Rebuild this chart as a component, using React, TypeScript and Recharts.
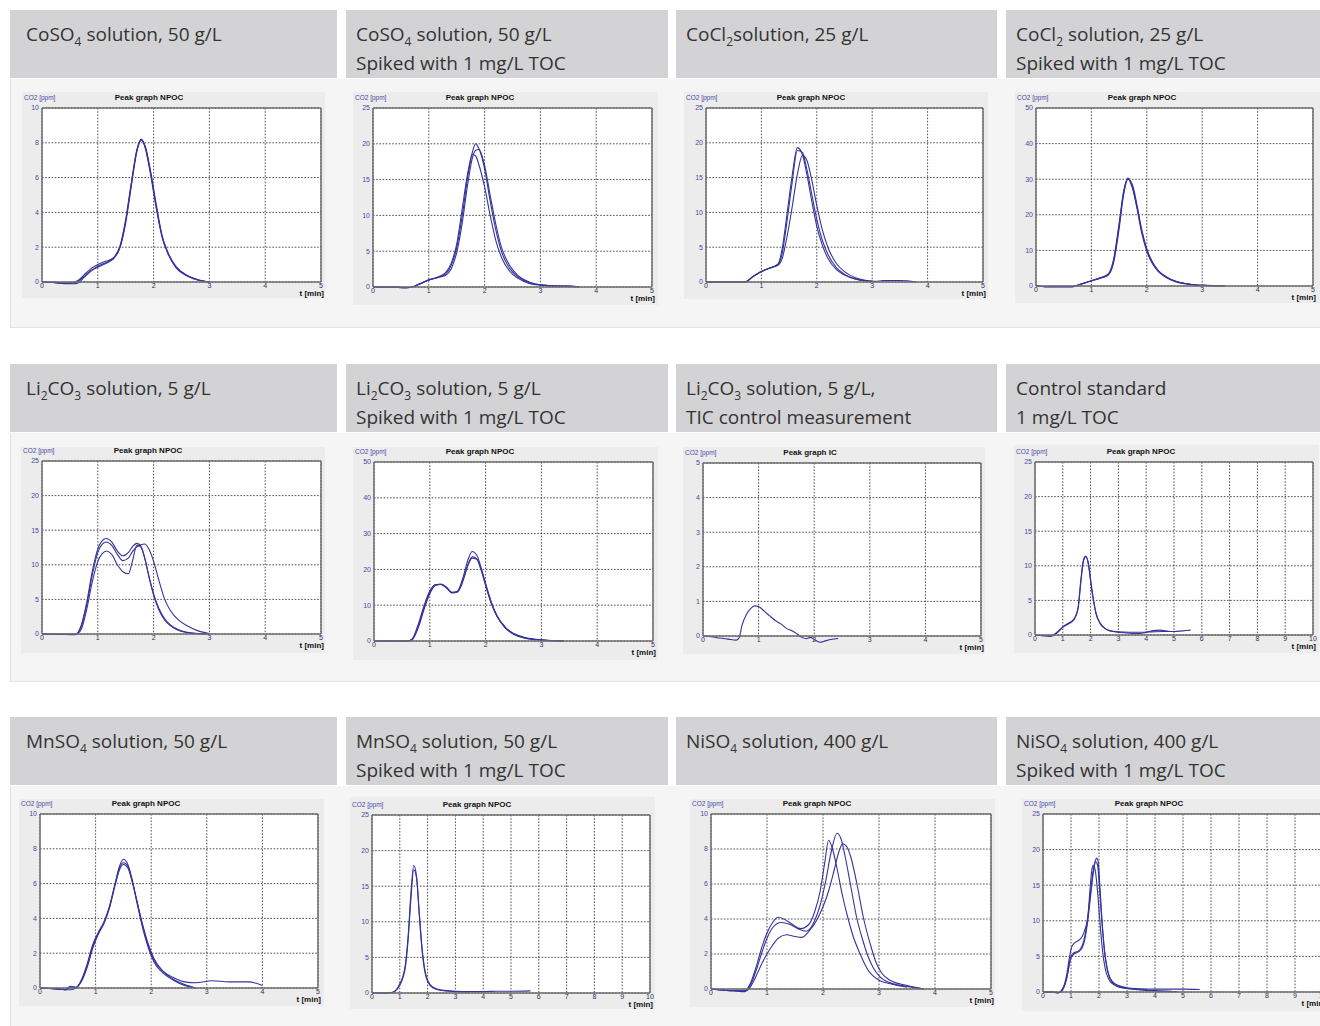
import React from 'react';
import { LineChart, Line, XAxis, YAxis, CartesianGrid } from 'recharts';

// ---------- tick labels ----------
const xTicks5 = [0, 1, 2, 3, 4, 5];
const xTicks10 = [0, 1, 2, 3, 4, 5, 6, 7, 8, 9, 10];
const yTicks5 = [0, 1, 2, 3, 4, 5];
const yTicks10 = [0, 2, 4, 6, 8, 10];
const yTicks25 = [0, 5, 10, 15, 20, 25];
const yTicks50 = [0, 10, 20, 30, 40, 50];

// ---------- headers ----------
const headers = [
  ['CoSO_4 solution, 50 g/L'],
  ['CoSO_4 solution, 50 g/L', 'Spiked with 1 mg/L TOC'],
  ['CoCl_2solution, 25 g/L'],
  ['CoCl_2 solution, 25 g/L', 'Spiked with 1 mg/L TOC'],
  ['Li_2CO_3 solution, 5 g/L'],
  ['Li_2CO_3 solution, 5 g/L', 'Spiked with 1 mg/L TOC'],
  ['Li_2CO_3 solution, 5 g/L,', 'TIC control measurement'],
  ['Control standard', '1 mg/L TOC'],
  ['MnSO_4 solution, 50 g/L'],
  ['MnSO_4 solution, 50 g/L', 'Spiked with 1 mg/L TOC'],
  ['NiSO_4 solution, 400 g/L'],
  ['NiSO_4 solution, 400 g/L', 'Spiked with 1 mg/L TOC'],
];

// ---------- 1: CoSO4 50 g/L ----------
const c1T = [0, 0.2, 0.4, 0.55, 0.65, 0.75, 0.85, 1.0, 1.1, 1.2, 1.3, 1.4, 1.5, 1.6, 1.7, 1.78, 1.85, 1.95, 2.05, 2.15, 2.25, 2.4, 2.6, 2.8, 3.0];
const c1A = [0, -0.02, -0.08, -0.05, 0.1, 0.4, 0.7, 1.0, 1.15, 1.25, 1.45, 2.1, 3.6, 5.7, 7.6, 8.2, 7.7, 6.1, 4.2, 2.6, 1.7, 0.85, 0.38, 0.13, 0];
const c1B = [0, -0.02, -0.1, -0.1, -0.05, 0.25, 0.55, 0.9, 1.05, 1.2, 1.45, 2.0, 3.4, 5.5, 7.5, 8.15, 7.8, 6.3, 4.4, 2.7, 1.75, 0.9, 0.38, 0.12, 0];
const c1C = [0, -0.02, -0.06, -0.03, 0.05, 0.3, 0.6, 0.85, 1.0, 1.15, 1.4, 2.0, 3.5, 5.6, 7.55, 8.2, 7.75, 6.2, 4.3, 2.65, 1.7, 0.82, 0.35, 0.1, 0];

// ---------- 2: CoSO4 spiked ----------
const c2T = [0, 0.3, 0.6, 0.7, 0.85, 1.0, 1.15, 1.3, 1.4, 1.5, 1.6, 1.7, 1.78, 1.84, 1.9, 2.0, 2.1, 2.2, 2.3, 2.45, 2.6, 2.8, 3.0, 3.3, 3.5, 3.7];
const c2A = [0, 0, -0.1, 0, 0.5, 1.0, 1.3, 1.8, 3.0, 5.5, 10, 15.5, 18.8, 20.0, 19.3, 16.5, 12, 8, 5, 2.6, 1.4, 0.6, 0.3, 0.15, 0.15, 0];
const c2B = [0, 0, -0.1, 0, 0.45, 0.95, 1.3, 1.6, 2.5, 4.8, 9, 14.5, 18, 19.1, 19.2, 17, 12.8, 8.8, 5.6, 3.0, 1.6, 0.7, 0.3, 0.15, 0.15, 0];
const c2C = [0, 0, -0.1, 0, 0.5, 1.0, 1.35, 2.0, 3.3, 6, 11, 16, 18.5, 18.3, 17, 14, 10, 6.5, 4.2, 2.2, 1.2, 0.5, 0.25, 0.12, 0.1, 0];

// ---------- 3: CoCl2 25 g/L ----------
const c3T = [0, 0.2, 0.5, 0.7, 0.85, 1.0, 1.15, 1.3, 1.38, 1.45, 1.55, 1.65, 1.74, 1.82, 1.9, 2.0, 2.1, 2.2, 2.35, 2.5, 2.7, 2.9, 3.0];
const c3A = [0, 0, 0, 0, 0.8, 1.5, 2.0, 2.6, 5, 9, 15, 19.3, 18.3, 15.5, 12, 8, 5.3, 3.4, 1.8, 1.0, 0.4, 0.15, 0.1];
const c3B = [0, 0, 0, 0, 0.8, 1.5, 2.0, 2.5, 4.3, 8, 14, 18.9, 18.6, 16.2, 13, 9, 6, 4, 2.1, 1.1, 0.45, 0.15, 0.1];
const c3CT = [0, 0.2, 0.5, 0.7, 0.85, 1.0, 1.15, 1.3, 1.38, 1.45, 1.55, 1.65, 1.74, 1.82, 1.9, 2.0, 2.1, 2.2, 2.35, 2.5, 2.7, 2.9, 3.05, 3.2, 3.5, 3.8];
const c3C = [0, 0, 0, 0, 0.8, 1.5, 2.0, 2.4, 3.5, 6, 10.5, 15.5, 18.2, 17.5, 15, 11, 7.5, 5, 2.7, 1.5, 0.6, 0.2, 0.1, 0.2, 0.2, 0];

// ---------- 4: CoCl2 spiked ----------
const c4T = [0, 0.2, 0.65, 0.8, 1.0, 1.15, 1.3, 1.4, 1.5, 1.58, 1.66, 1.74, 1.82, 1.9, 2.0, 2.1, 2.2, 2.35, 2.5, 2.7, 2.9, 3.1, 3.4];
const c4A = [0, -0.2, -0.2, 0.5, 1.5, 2.2, 3.2, 7, 17, 26, 30.3, 28, 22.5, 16, 10, 6.5, 4.3, 2.5, 1.4, 0.7, 0.3, 0.2, 0];
const c4B = [0, -0.2, -0.2, 0.4, 1.4, 2.1, 3.0, 6.5, 16, 25.5, 30.0, 28.5, 23, 16.5, 10.5, 6.8, 4.5, 2.6, 1.5, 0.7, 0.3, 0.15, 0];
const c4C = [0, -0.2, -0.2, 0.5, 1.5, 2.3, 3.3, 7.5, 17.5, 26.5, 30.1, 27.5, 22, 15.5, 9.8, 6.3, 4.2, 2.4, 1.3, 0.6, 0.25, 0.15, 0];

// ---------- 5: Li2CO3 5 g/L ----------
const c5T = [0, 0.3, 0.6, 0.7, 0.8, 0.9, 1.0, 1.08, 1.15, 1.25, 1.35, 1.45, 1.55, 1.62, 1.7, 1.77, 1.84, 1.92, 2.0, 2.1, 2.2, 2.3, 2.45, 2.6, 2.8, 3.0];
const c5A = [0, -0.05, -0.05, 1.2, 4.5, 9.0, 12.3, 13.5, 13.8, 13.3, 12.0, 11.3, 11.8, 12.6, 13.1, 12.7, 11.0, 8.2, 5.8, 3.6, 2.2, 1.3, 0.6, 0.25, 0.05, 0];
const c5B = [0, -0.05, -0.05, 1.0, 4.2, 8.5, 11.8, 13.0, 13.3, 12.8, 11.5, 10.6, 11.0, 11.9, 12.6, 12.9, 13.0, 12.2, 10.5, 7.6, 5.0, 3.4, 2.0, 1.2, 0.45, 0.05];
const c5C = [0, -0.05, -0.1, 0.6, 3.5, 7.5, 10.5, 11.6, 12.0, 11.5, 10.0, 9.0, 8.7, 10.5, 12.8, 12.6, 11.0, 8.2, 5.6, 3.4, 2.0, 1.2, 0.5, 0.2, 0.05, 0];

// ---------- 6: Li2CO3 spiked ----------
const c6T = [0, 0.3, 0.6, 0.68, 0.8, 0.9, 1.0, 1.1, 1.2, 1.3, 1.4, 1.5, 1.6, 1.68, 1.76, 1.84, 1.92, 2.0, 2.1, 2.2, 2.35, 2.5, 2.7, 2.9, 3.1, 3.4];
const c6A = [0, 0, 0, 0.5, 5, 10, 14, 15.8, 15.8, 14.8, 13.5, 14, 18, 22.5, 25, 24, 20.5, 16, 11, 7.2, 3.8, 2.0, 0.9, 0.4, 0.2, 0];
const c6B = [0, 0, 0, 0.4, 4.5, 9.5, 13.5, 15.6, 15.9, 15.0, 13.6, 13.8, 17.2, 21, 23.1, 22.8, 19.8, 15.5, 10.5, 7.0, 3.7, 1.9, 0.8, 0.35, 0.15, 0];
const c6C = [0, 0, 0, 0.3, 4, 9, 13.2, 15.5, 15.8, 14.9, 13.4, 13.7, 17, 21.2, 23.5, 23.0, 20, 15.8, 10.8, 7.1, 3.9, 2.1, 1.0, 0.5, 0.2, 0.05];

// ---------- 7: Li2CO3 TIC ----------
const c7T = [0, 0.15, 0.3, 0.45, 0.6, 0.65, 0.7, 0.78, 0.86, 0.93, 1.0, 1.1, 1.2, 1.3, 1.4, 1.5, 1.6, 1.7, 1.78, 1.86, 1.93, 2.0, 2.1, 2.2, 2.3, 2.43];
const c7A = [0, -0.02, -0.06, -0.09, -0.12, -0.05, 0.3, 0.62, 0.8, 0.87, 0.85, 0.72, 0.58, 0.45, 0.35, 0.22, 0.15, 0.05, -0.04, -0.08, -0.04, -0.1, -0.18, -0.14, -0.1, -0.07];

// ---------- 8: Control standard ----------
const c8AT = [0, 0.3, 0.55, 0.7, 0.85, 1.0, 1.2, 1.4, 1.55, 1.65, 1.75, 1.83, 1.92, 2.0, 2.1, 2.2, 2.35, 2.5, 2.7, 3.0, 3.4, 3.8, 4.2, 4.6, 5.0, 5.3, 5.6];
const c8A = [0, -0.1, -0.15, 0.1, 0.6, 1.2, 1.7, 2.3, 4, 8, 11, 11.4, 10.2, 7.8, 5, 3, 1.6, 1.0, 0.6, 0.45, 0.4, 0.4, 0.45, 0.5, 0.5, 0.6, 0.7];
const c8BT = [0, 0.3, 0.55, 0.7, 0.85, 1.0, 1.2, 1.4, 1.55, 1.65, 1.75, 1.83, 1.92, 2.0, 2.1, 2.2, 2.35, 2.5, 2.7, 3.0, 3.3, 3.6, 3.9, 4.2, 4.5, 4.8, 5.0];
const c8B = [0, -0.1, -0.2, 0.0, 0.5, 1.1, 1.6, 2.2, 3.8, 7.6, 10.8, 11.3, 10.4, 8, 5.2, 3.1, 1.7, 1.0, 0.6, 0.4, 0.3, 0.2, 0.3, 0.6, 0.7, 0.55, 0.5];

// ---------- 9: MnSO4 50 g/L ----------
const c9T = [0, 0.3, 0.45, 0.55, 0.65, 0.75, 0.85, 0.95, 1.05, 1.15, 1.25, 1.35, 1.43, 1.5, 1.58, 1.66, 1.75, 1.85, 1.95, 2.05, 2.2, 2.4, 2.6, 2.8];
const c9A = [0, -0.05, -0.1, -0.1, 0, 0.5, 1.4, 2.5, 3.2, 3.8, 4.7, 6.0, 7.0, 7.4, 7.1, 6.2, 4.8, 3.4, 2.3, 1.5, 0.9, 0.45, 0.15, 0];
const c9B = [0, -0.05, -0.1, 0.1, 0.05, 0.4, 1.2, 2.3, 3.1, 3.7, 4.6, 5.9, 6.8, 7.1, 6.9, 6.1, 4.9, 3.6, 2.5, 1.7, 1.0, 0.5, 0.2, 0];
const c9CT = [0, 0.3, 0.45, 0.55, 0.65, 0.75, 0.85, 0.95, 1.05, 1.15, 1.25, 1.35, 1.43, 1.5, 1.58, 1.66, 1.75, 1.85, 1.95, 2.05, 2.2, 2.4, 2.6, 2.8, 3.1, 3.4, 3.75, 4.0];
const c9C = [0, -0.05, -0.1, 0.05, 0.02, 0.45, 1.3, 2.4, 3.15, 3.75, 4.65, 5.95, 6.9, 7.2, 7.0, 6.1, 4.9, 3.5, 2.4, 1.6, 1.0, 0.6, 0.35, 0.3, 0.42, 0.35, 0.35, 0.15];

// ---------- 10: MnSO4 spiked ----------
const c10AT = [0, 0.5, 0.75, 0.9, 1.0, 1.1, 1.2, 1.3, 1.4, 1.5, 1.6, 1.7, 1.8, 1.9, 2.0, 2.2, 2.5, 3.0, 3.5];
const c10A = [0, 0, 0.1, 0.6, 1.3, 2.2, 4, 8, 14, 17.9, 16.5, 11, 6, 3, 1.6, 0.7, 0.35, 0.2, 0.15];
const c10BT = [0, 0.5, 0.75, 0.9, 1.0, 1.1, 1.2, 1.3, 1.4, 1.5, 1.6, 1.7, 1.8, 1.9, 2.0, 2.2, 2.5, 3.0, 3.5, 4.0, 4.5, 5.0, 5.7];
const c10B = [0, 0, 0.1, 0.5, 1.1, 2.0, 3.6, 7.5, 13.2, 17.3, 16.2, 11.3, 6.4, 3.3, 1.8, 0.8, 0.4, 0.25, 0.2, 0.2, 0.25, 0.25, 0.3];

// ---------- 11: NiSO4 400 g/L ----------
const c11AT = [0, 0.4, 0.6, 0.7, 0.8, 0.9, 1.0, 1.1, 1.2, 1.3, 1.45, 1.6, 1.75, 1.85, 1.95, 2.03, 2.1, 2.17, 2.25, 2.35, 2.45, 2.55, 2.65, 2.8, 3.0, 3.2, 3.5];
const c11A = [0, -0.1, -0.1, 0.3, 1.2, 2.3, 3.2, 3.8, 4.1, 4.0, 3.7, 3.45, 3.7, 4.4, 5.6, 7.2, 8.5, 8.0, 6.9, 5.3, 4.0, 2.9, 2.1, 1.1, 0.5, 0.3, 0.1];
const c11BT = [0, 0.4, 0.6, 0.7, 0.8, 0.9, 1.0, 1.1, 1.25, 1.4, 1.55, 1.7, 1.85, 1.95, 2.05, 2.15, 2.25, 2.32, 2.4, 2.5, 2.6, 2.7, 2.8, 2.9, 3.0, 3.2, 3.5, 3.8];
const c11B = [0, -0.1, -0.1, 0.2, 1.0, 2.0, 2.9, 3.5, 3.8, 3.7, 3.45, 3.3, 3.9, 4.8, 6.2, 7.9, 8.9, 8.6, 7.5, 5.8, 4.1, 2.9, 1.9, 1.2, 0.75, 0.35, 0.15, 0];
const c11CT = [0, 0.4, 0.6, 0.7, 0.8, 0.9, 1.0, 1.1, 1.2, 1.35, 1.5, 1.62, 1.75, 1.9, 2.0, 2.1, 2.2, 2.28, 2.35, 2.43, 2.5, 2.6, 2.72, 2.85, 2.95, 3.05, 3.2, 3.5, 3.8];
const c11C = [0, -0.1, -0.15, 0.1, 0.7, 1.4, 2.0, 2.5, 2.9, 3.1, 3.0, 2.95, 3.3, 4.0, 4.7, 5.6, 6.8, 7.8, 8.3, 8.1, 7.5, 6.1, 4.1, 2.5, 1.5, 0.9, 0.5, 0.2, 0];

// ---------- 12: NiSO4 spiked ----------
const c12AT = [0, 0.3, 0.55, 0.7, 0.85, 0.95, 1.0, 1.1, 1.25, 1.4, 1.5, 1.6, 1.7, 1.78, 1.85, 1.92, 1.97, 2.03, 2.1, 2.2, 2.3, 2.45, 2.7, 3.0, 3.5, 4.0, 4.5, 5.0, 5.6];
const c12A = [0, 0, -0.1, 0.4, 2.0, 4.2, 5.0, 5.5, 5.7, 6.5, 8, 10.5, 14, 16.8, 18.2, 18.8, 18.3, 15, 10.5, 5.8, 3.2, 1.6, 0.9, 0.6, 0.45, 0.4, 0.4, 0.4, 0.35];
const c12BT = [0, 0.3, 0.55, 0.7, 0.85, 0.95, 1.0, 1.1, 1.25, 1.4, 1.5, 1.6, 1.68, 1.75, 1.8, 1.87, 1.95, 2.03, 2.12, 2.22, 2.35, 2.5, 2.7, 3.0, 3.5, 4.0, 4.8];
const c12B = [0, 0, -0.1, 0.4, 2.5, 5, 6.0, 6.8, 7.2, 7.8, 8.8, 10.5, 14.5, 17.3, 17.8, 17, 14, 10, 6, 3.3, 1.8, 1.1, 0.7, 0.5, 0.3, 0.15, 0.05];
const c12CT = [0, 0.3, 0.55, 0.7, 0.85, 0.95, 1.0, 1.1, 1.25, 1.4, 1.5, 1.6, 1.7, 1.8, 1.88, 1.95, 2.02, 2.1, 2.2, 2.3, 2.45, 2.7, 3.0, 3.5, 4.0, 4.6];
const c12C = [0, 0, -0.1, 0.3, 2.0, 4.0, 4.8, 5.3, 5.6, 6.2, 7.5, 10, 13.5, 16.8, 18.3, 17.8, 14.5, 10, 5.5, 3, 1.5, 0.8, 0.5, 0.35, 0.2, 0.1];

// ---------- helpers ----------
const mk = (t: number[], v: number[]) => t.map((x, i) => ({ t: x, v: v[i] }));

const LINE_COLOR = '#34349a';
const Y_TICK_COLOR = '#4a4aa6';
const X_TICK_COLOR = '#2e2e5e';
const TICK_FONT = '"Liberation Sans", Arial, sans-serif';

type Box = { x: number; y: number; w: number; h: number };
type Plot = { l: number; t: number; r: number; b: number };

const COLS = [
  { x: 10, w: 327, pad: 16 },
  { x: 346, w: 322, pad: 10 },
  { x: 676, w: 321, pad: 10 },
  { x: 1006, w: 320, pad: 10 },
];
const ROWS = [
  { hy: 10, py: 79, ph: 249 },
  { hy: 364, py: 433, ph: 249 },
  { hy: 717, py: 786, ph: 250 },
];

const panels: { frame: Box; plot: Plot; xTicks: number[]; yTicks: number[]; title: string; series: { t: number; v: number }[][] }[] = [
  { frame: { x: 22, y: 92, w: 303, h: 206 }, plot: { l: 42, t: 108, r: 321, b: 282 }, xTicks: xTicks5, yTicks: yTicks10, title: 'Peak graph NPOC', series: [mk(c1T, c1A), mk(c1T, c1B), mk(c1T, c1C)] },
  { frame: { x: 353, y: 92, w: 305, h: 213 }, plot: { l: 373, t: 108, r: 652, b: 287 }, xTicks: xTicks5, yTicks: yTicks25, title: 'Peak graph NPOC', series: [mk(c2T, c2A), mk(c2T, c2B), mk(c2T, c2C)] },
  { frame: { x: 684, y: 92, w: 304, h: 207 }, plot: { l: 706, t: 108, r: 983, b: 282 }, xTicks: xTicks5, yTicks: yTicks25, title: 'Peak graph NPOC', series: [mk(c3T, c3A), mk(c3T, c3B), mk(c3CT, c3C)] },
  { frame: { x: 1015, y: 92, w: 305, h: 211 }, plot: { l: 1036, t: 108, r: 1313, b: 286 }, xTicks: xTicks5, yTicks: yTicks50, title: 'Peak graph NPOC', series: [mk(c4T, c4A), mk(c4T, c4B), mk(c4T, c4C)] },

  { frame: { x: 21, y: 447, w: 304, h: 206 }, plot: { l: 42, t: 461, r: 321, b: 634 }, xTicks: xTicks5, yTicks: yTicks25, title: 'Peak graph NPOC', series: [mk(c5T, c5A), mk(c5T, c5B), mk(c5T, c5C)] },
  { frame: { x: 353, y: 447, w: 305, h: 213 }, plot: { l: 374, t: 462, r: 653, b: 641 }, xTicks: xTicks5, yTicks: yTicks50, title: 'Peak graph NPOC', series: [mk(c6T, c6A), mk(c6T, c6B), mk(c6T, c6C)] },
  { frame: { x: 683, y: 447, w: 302, h: 207 }, plot: { l: 703, t: 463, r: 981, b: 636 }, xTicks: xTicks5, yTicks: yTicks5, title: 'Peak graph IC', series: [mk(c7T, c7A)] },
  { frame: { x: 1014, y: 445, w: 305, h: 208 }, plot: { l: 1035, t: 462, r: 1313, b: 635 }, xTicks: xTicks10, yTicks: yTicks25, title: 'Peak graph NPOC', series: [mk(c8AT, c8A), mk(c8BT, c8B)] },

  { frame: { x: 19, y: 799, w: 305, h: 207 }, plot: { l: 40, t: 814, r: 318, b: 988 }, xTicks: xTicks5, yTicks: yTicks10, title: 'Peak graph NPOC', series: [mk(c9T, c9A), mk(c9T, c9B), mk(c9CT, c9C)] },
  { frame: { x: 350, y: 797, w: 305, h: 212 }, plot: { l: 372, t: 815, r: 650, b: 993 }, xTicks: xTicks10, yTicks: yTicks25, title: 'Peak graph NPOC', series: [mk(c10AT, c10A), mk(c10BT, c10B)] },
  { frame: { x: 690, y: 799, w: 305, h: 208 }, plot: { l: 711, t: 814, r: 991, b: 989 }, xTicks: xTicks5, yTicks: yTicks10, title: 'Peak graph NPOC', series: [mk(c11AT, c11A), mk(c11BT, c11B), mk(c11CT, c11C)] },
  { frame: { x: 1022, y: 799, w: 310, h: 212 }, plot: { l: 1043, t: 814, r: 1323, b: 992 }, xTicks: xTicks10, yTicks: yTicks25, title: 'Peak graph NPOC', series: [mk(c12AT, c12A), mk(c12BT, c12B), mk(c12CT, c12C)] },
];

function HeaderLine({ text }: { text: string }) {
  const parts = text.split(/_(\d)/);
  return (
    <div style={{ height: 29, lineHeight: '29px', whiteSpace: 'nowrap' }}>
      {parts.map((p, i) =>
        i % 2 === 1 ? (
          <span key={i} style={{ fontSize: 12, position: 'relative', top: 5 }}>{p}</span>
        ) : (
          <span key={i}>{p}</span>
        )
      )}
    </div>
  );
}

function Chart({ p }: { p: (typeof panels)[number] }) {
  const { frame, plot, xTicks, yTicks, title, series } = p;
  const xMax = xTicks[xTicks.length - 1];
  const yMax = yTicks[yTicks.length - 1];
  const margin = {
    top: plot.t - frame.y - 1,
    left: plot.l - frame.x - 1,
    right: frame.x + frame.w - plot.r - 1,
    bottom: frame.y + frame.h - plot.b - 1,
  };
  const axisLine = { stroke: '#707070', strokeWidth: 1.5 };
  return (
    <div style={{ position: 'absolute', left: frame.x, top: frame.y, width: frame.w, height: frame.h, background: '#ececec' }}>
      <div style={{ position: 'absolute', left: 2, top: plot.t - frame.y - 14, fontFamily: TICK_FONT, fontSize: 6.5, color: Y_TICK_COLOR, whiteSpace: 'nowrap' }}>CO2 [ppm]</div>
      <div style={{ position: 'absolute', left: 127 - 60, width: 120, textAlign: 'center', top: plot.t - frame.y - 15, fontFamily: TICK_FONT, fontSize: 8, fontWeight: 'bold', color: '#111', whiteSpace: 'nowrap' }}>{title}</div>
      <div style={{ position: 'absolute', left: plot.r - frame.x - 40, width: 43, textAlign: 'right', top: plot.b - frame.y + 7, fontFamily: TICK_FONT, fontSize: 8, fontWeight: 'bold', color: '#111', whiteSpace: 'nowrap' }}>t [min]</div>
      <div style={{ position: 'absolute', left: 0, top: 0 }}>
        <LineChart width={frame.w} height={frame.h} margin={margin}>
          <CartesianGrid stroke="#3c3c3c" strokeDasharray="1.6 1.6" strokeWidth={0.9} fill="#ffffff" />
          <XAxis
            type="number"
            dataKey="t"
            domain={[0, xMax]}
            ticks={xTicks}
            interval={0}
            allowDataOverflow
            height={1}
            tickLine={false}
            tickSize={0}
            tickMargin={1}
            axisLine={axisLine}
            tick={{ fontSize: 7, fill: X_TICK_COLOR, fontFamily: TICK_FONT }}
          />
          <YAxis
            type="number"
            domain={[0, yMax]}
            ticks={yTicks}
            interval={0}
            allowDataOverflow
            width={1}
            tickLine={false}
            tickSize={0}
            tickMargin={3}
            axisLine={axisLine}
            tick={{ fontSize: 7, fill: Y_TICK_COLOR, fontFamily: TICK_FONT }}
          />
          <XAxis xAxisId="top" orientation="top" type="number" domain={[0, xMax]} height={1} tick={false} tickLine={false} axisLine={axisLine} />
          <YAxis yAxisId="right" orientation="right" type="number" domain={[0, 1]} width={1} tick={false} tickLine={false} axisLine={axisLine} />
          {series.map((s, i) => (
            <Line
              key={i}
              data={s}
              dataKey="v"
              type="monotone"
              stroke={LINE_COLOR}
              strokeWidth={1.1}
              dot={false}
              activeDot={false}
              isAnimationActive={false}
            />
          ))}
        </LineChart>
      </div>
    </div>
  );
}

export default function App() {
  return (
    <div style={{ position: 'absolute', left: 0, top: 0, width: 1320, height: 1026, overflow: 'hidden', background: '#ffffff' }}>
      <style>{'.recharts-line, .recharts-line-curve { clip-path: none !important; }'}</style>
      {ROWS.map((r, ri) => (
        <div key={'panel' + ri} style={{ position: 'absolute', left: 10, top: r.py, width: 1310, height: r.ph, background: '#f5f5f5', borderLeft: '1px solid #e2e2e2', borderBottom: '1px solid #e2e2e2', boxSizing: 'border-box' }} />
      ))}
      {headers.map((h, i) => {
        const c = COLS[i % 4];
        const r = ROWS[Math.floor(i / 4)];
        return (
          <div key={'h' + i} style={{ position: 'absolute', left: c.x, top: r.hy, width: c.w, height: 68, background: '#d3d3d5', boxSizing: 'border-box', paddingLeft: c.pad, paddingTop: 10, fontFamily: '"Open Sans", sans-serif', fontSize: 19, color: '#333333' }}>
            {h.map((line, li) => (
              <HeaderLine key={li} text={line} />
            ))}
          </div>
        );
      })}
      {panels.map((p, i) => (
        <Chart key={'c' + i} p={p} />
      ))}
    </div>
  );
}
